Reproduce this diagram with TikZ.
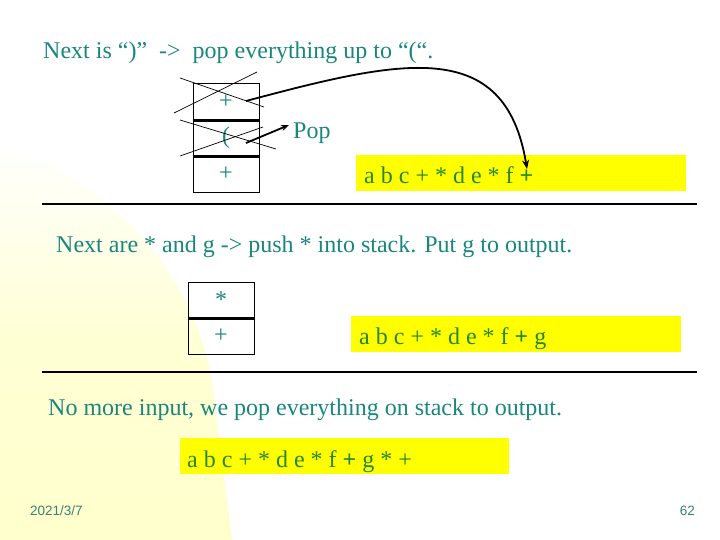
\documentclass[tikz,border=0pt]{standalone}
\usepackage{fontspec}
\setmainfont{Liberation Serif}
\newfontfamily\footfont{Liberation Sans}
\usetikzlibrary{arrows.meta}
\definecolor{teal1}{RGB}{25,135,125}
\definecolor{outgreen}{RGB}{40,135,45}
\definecolor{boxyellow}{RGB}{255,255,0}
\definecolor{paleyellow}{RGB}{255,255,205}
\definecolor{footcol}{RGB}{55,130,120}
\tikzset{
  title/.style={anchor=base west, inner sep=0, text=teal1, font=\fontsize{24}{28}\selectfont},
  cell/.style={draw=black, line width=0.9pt, minimum width=66pt, inner sep=0, text=teal1, font=\fontsize{24}{28}\selectfont},
  sep/.style={line width=2.2pt},
  outbox/.style={fill=boxyellow, draw=none, inner sep=0, anchor=north west},
  outtext/.style={anchor=base west, inner sep=0, text=outgreen, font=\fontsize{24}{28}\selectfont},
  cross/.style={line width=0.7pt},
  rule/.style={line width=1.1pt},
  bigarrow/.style={line width=1.8pt, -{Stealth[length=9pt,width=7pt]}},
  footer/.style={inner sep=0, text=footcol, font=\footfont\fontsize{13.5}{16}\selectfont}
}
\begin{document}
\begin{tikzpicture}[x=1pt,y=-1pt]
\useasboundingbox (0,0) rectangle (720,540);
% background
\fill[white] (0,0) rectangle (720,540);
\shade[top color=white, bottom color=paleyellow, middle color=paleyellow!85]
  (0,140) .. controls (100,180) and (190,260) .. (212,380) -- (232,540) -- (0,540) -- cycle;

% titles
\node[title] (t1) at (43,59) {Next is “)”\ \ ->\ \ pop everything up to “(“.};
\node[title] (t2) at (56,252) {Next are * and g -> push * into stack. Put g to output.};
\node[title] (t3) at (48,415) {No more input, we pop everything on stack to output.};

% rules
\coordinate (r1a) at (42,204); \coordinate (r1b) at (697,204);
\coordinate (r2a) at (42,372); \coordinate (r2b) at (697,372);
\draw[rule] (r1a) -- (r1b);
\draw[rule] (r2a) -- (r2b);

% stack 1
\node[cell, minimum height=37pt] (s1a) at (226,101.5) {+};
\node[cell, minimum height=36pt] (s1b) at (226,138) {(};
\node[cell, minimum height=36pt] (s1c) at (226,174) {+};
\draw[sep] (s1a.south west) -- (s1a.south east);
\draw[sep] (s1b.south west) -- (s1b.south east);

% crosses
\draw[cross] (180,78) -- (264,107);
\draw[cross] (174,113) -- (257,72);
\draw[cross] (180,120) -- (276,149);
\draw[cross] (180,156) -- (263,127);

% pop
\node[anchor=base west, inner sep=0, text=teal1, font=\fontsize{24}{28}\selectfont] (pop) at (293,139) {Pop};
\coordinate (pa) at (246,143);
\coordinate (pb) at (289,125);
\draw[line width=1.8pt, -{Stealth[length=8pt,width=6pt]}] (pa) -- (pb);

% output 1
\node[outbox, minimum width=330pt, minimum height=36pt] (o1) at (356,155) {};
\node[outtext] (o1t) at (364,184) {a b c + * d e * f \textbf{+}};

% big arrow
\coordinate (ba) at (246,101);
\coordinate (bb) at (527,169);
\draw[bigarrow] (ba) .. controls (400,60) and (505,35) .. (bb);

% stack 2
\node[cell, minimum height=36pt] (s2a) at (221,300) {*};
\node[cell, minimum height=36pt] (s2b) at (221,336) {+};
\draw[sep] (s2a.south west) -- (s2a.south east);

% output 2
\node[outbox, minimum width=330pt, minimum height=36pt] (o2) at (351,316) {};
\node[outtext] (o2t) at (359,344) {a b c + * d e * f \textbf{+} g};

% output 3
\node[outbox, minimum width=329pt, minimum height=36pt] (o3) at (180,438) {};
\node[outtext] (o3t) at (187,467) {a b c + * d e * f \textbf{+} g * +};

% footer
\node[footer, anchor=west] (date) at (30,511) {2021/3/7};
\node[footer, anchor=east] (num) at (695,511) {62};
\end{tikzpicture}
\end{document}
